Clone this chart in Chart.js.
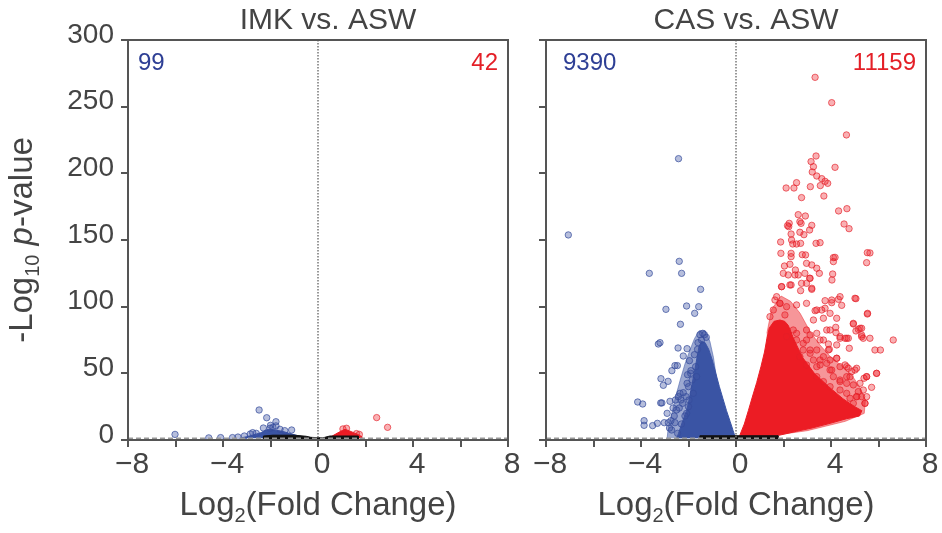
<!DOCTYPE html>
<html>
<head>
<meta charset="utf-8">
<script src="https://cdn.jsdelivr.net/npm/chart.js@4.4.1/dist/chart.umd.min.js"></script>
<style>
  body { margin: 0; background: #fff; }
  #wrap { position: relative; width: 942px; height: 533px; }
  canvas { position: absolute; top: 0; }
</style>
</head>
<body>
<div id="wrap">
  <canvas id="imk" width="520" height="533" style="left:0;width:520px;height:533px"></canvas>
  <canvas id="cas" width="422" height="533" style="left:520px;width:422px;height:533px"></canvas>
</div>
<script>
// axes
const xTickValues = [-8, -4, 0, 4, 8];
const xTickLabels = ['\u22128', '\u22124', '0', '4', '8'];
const yTickValues = [0, 50, 100, 150, 200, 250, 300];
const pThreshold = 1.3;

const panelTitles = ['IMK vs. ASW', 'CAS vs. ASW'];
const downCounts = [99, 9390];
const upCounts = [42, 11159];

// IMK vs ASW - single outlying genes
const imkBlueX = [-6.02, -4.6, -4.1, -3.6, -3.37, -2.85, -2.6, -2.48, -2.3, -2.16, -2.0, -2.02, -1.9, -1.77, -1.77, -1.6, -1.4, -1.11, -3.1, -2.75];
const imkBlueY = [4.2, 1.6, 1.8, 1.8, 2.2, 4.5, 5, 22.5, 9, 16.7, 11, 8.8, 9.5, 10.6, 13.7, 8, 7, 7.5, 3, 5.5];
const imkRedX = [1.05, 1.2, 1.62, 1.74, 2.47, 2.93];
const imkRedY = [8.3, 8.8, 4.8, 4.2, 16.8, 9.5];
// IMK vs ASW - outline of the dense clouds
const imkBlueShapeX = [-3.3, -3.0, -2.7, -2.4, -2.2, -2.0, -1.8, -1.5, -1.2, -0.9, -0.6, -0.3, -0.2];
const imkBlueShapeY = [1.3, 2.5, 4, 5.5, 7.5, 8, 7.5, 6.5, 5, 3.5, 2.2, 1.5, 1.3];
const imkRedShapeX = [0.43, 0.6, 0.8, 1.0, 1.14, 1.3, 1.5, 1.7, 1.84, 1.84];
const imkRedShapeY = [1.3, 3, 5, 7, 8, 7, 5.5, 4, 2.5, 1.3];
const imkGreyShapeX = [-2.3, -2.3, -1.9, -1.0, -0.5, -0.3, 0.2, 0.5, 1.7, 1.7];
const imkGreyShapeY = [0, 3, 3.6, 3.6, 2.8, 2, 1.6, 3, 3, 0];

// CAS vs ASW - single outlying genes
const casBlueX = [-7.06, -2.42, -2.39, -3.65, -2.29, -1.49, -2.95, -2.08, -1.57, -1.74, -2.34, -3.27, -3.2, -1.52, -1.33,
  -2.44, -2.06, -2.22, -1.96, -2.57, -2.47, -2.7, -2.04, -3.16, -2.86, -3.06, -2.06, -4.14, -3.93, -3.17, -3.12, -2.78,
  -3.87, -3.87, -3.51, -3.31, -3.02, -2.85, -2.74, -2.57, -2.71, -2.46, -2.36, -2.22, -2.1, -1.98, -2.32, -2.39,
  -1.91, -1.66, -2.0, -2.43, -2.25, -2.5, -2.08, -1.62, -1.45, -1.7, -1.85, -2.15, -2.6, -2.3, -2.0, -1.8,
  -1.4, -1.25, -1.6, -1.75, -1.9, -2.65, -2.55, -2.9, -2.8];
const casBlueY = [153.8, 211, 134, 125, 125, 113, 98, 100.5, 100, 95, 86.8, 72, 73, 79, 79,
  69, 68.5, 63, 59.5, 55.8, 55.8, 52, 49, 46, 44, 41, 42.5, 28.5, 27, 27.8, 27.8, 29,
  14.5, 11, 10.8, 12.5, 13, 13, 14.5, 13, 7.5, 5, 35, 35.5, 32.5, 30, 30, 24,
  50, 47.5, 40, 32.5, 27.5, 22.5, 20, 68, 75, 55, 45, 18, 18, 12, 25, 35,
  80, 77, 73, 64, 52, 24, 30, 20, 9];
const casRedX = [3.33, 4.03, 4.65, 3.37, 3.16, 3.26, 4.17, 3.21, 3.4, 3.61, 3.75, 3.86, 2.55, 2.11, 2.44, 3.13, 3.55,
  3.7, 2.76, 4.32, 4.67, 2.62, 2.92, 2.24, 2.22, 2.69, 2.74, 3.19, 4.55, 4.76, 2.17, 2.32, 2.69, 2.86, 3.1,
  1.88, 2.34, 2.39, 2.55, 2.72, 3.37, 3.54, 1.89, 2.32, 2.79, 2.93, 2.32, 5.64, 4.1,
  5.53, 5.5, 4.17, 4.1, 2.04, 2.27, 2.5, 2.97, 3.19, 3.4, 3.51, 2.62, 3.1, 2.97, 4.07, 4.04,
  1.92, 2.32, 2.72, 3.19, 5.05, 3.75, 4.03, 4.31, 4.45, 3.33, 3.61, 3.96, 4.24, 5.53, 3.68, 3.26, 3.12,
  4.94, 5.15, 5.29, 5.05, 3.82, 4.2, 4.21, 4.38, 4.59, 4.73, 5.29, 5.36, 5.64, 6.62, 6.08, 4.77, 4.24, 3.89, 3.93, 3.54,
  4.24, 3.96, 3.82, 3.54, 3.4, 4.59, 4.73, 5.08, 4.87, 5.92, 5.5, 5.71, 5.39, 4.1, 4.38, 4.66, 4.94, 5.15, 5.29, 5.43,
  2.97, 2.69, 3.12, 3.4, 3.68, 3.96, 4.38, 4.66, 4.8, 5.08, 3.96, 3.26, 2.83, 2.55, 2.97, 2.41, 2.13, 3.4, 3.68,
  4.38, 4.66, 5.22, 5.36, 5.5, 4.94, 1.57, 1.85, 1.71, 1.43, 2.06,
  1.99, 2.2, 2.48, 2.9, 3.12, 1.92, 2.27, 2.76, 3.19, 1.64, 1.85, 2.13, 2.55, 2.97, 3.4, 3.75, 4.03, 4.38, 5.01,
  5.54, 4.94, 5.22, 5.29, 5.85, 5.92, 5.5, 5.43, 5.08, 2.97, 3.4, 3.68, 3.96, 4.38, 4.66, 3.89, 4.24, 4.66, 5.01,
  4.8, 4.38, 4.03, 3.54, 3.12, 2.83, 2.55];
const casRedY = [272, 253, 228.8, 213, 208.8, 205, 204.5, 201, 198, 196, 194, 192.5, 193, 189, 189, 190, 190.8,
  183, 181.8, 171.8, 173.5, 169, 168, 162.5, 160, 163.8, 162.5, 161, 162, 158.5, 160.8, 154.5, 155.8, 154, 157.5,
  148.5, 150, 147, 147, 147.5, 147.5, 148, 140, 140, 139, 138.8, 137.5, 140.3, 136.8,
  140.5, 133, 137, 133.8, 130.5, 131.8, 127.5, 132.5, 131.3, 128.8, 125, 123.8, 121.3, 117.5, 124.5, 120,
  115, 116.3, 112, 113, 106, 104.5, 103, 105.5, 101, 97, 97.5, 95, 91.3, 94.5, 91.3, 90, 78.8,
  87, 83, 83.8, 81.8, 82.5, 84.5, 80.5, 76.3, 76.3, 76.3, 78.8, 76.3, 76.3, 75, 67.5, 68.8, 71.3, 72, 68, 75,
  61.3, 60, 57.5, 56.3, 55, 56.3, 53.8, 53.8, 51.3, 50, 47.5, 39.5, 46.3, 47.5, 43.8, 42.5, 41.3, 36.3, 32.5, 27.5,
  56.3, 62.5, 67.5, 47.5, 43.8, 40, 37.5, 35, 31.3, 32.5, 52.5, 60, 67.5, 75, 75, 82.5, 77.5, 67.5, 62.5,
  55, 47.5, 42.5, 37.5, 32.5, 27.5, 97.5, 102.5, 107.5, 92.5, 93.8,
  125, 123.8, 123.8, 125, 121.3, 115, 116.3, 117.5, 113.8, 105, 102.5, 100, 101.3, 102.5, 97.5, 98.8, 105, 107.5, 106.3,
  95, 87.5, 83.8, 77.5, 67.5, 50, 47.5, 27.5, 32.5, 82.5, 80, 75, 82.5, 77.5, 76.3, 67.5, 61.3, 55, 52.5,
  47.5, 45, 52.5, 60, 65, 72.5, 80];
// CAS vs ASW - outline of the dense clouds
const casBlueShapeX = [-2.5, -2.42, -2.25, -2.08, -1.95, -1.85, -1.72, -1.64, -1.56, -1.45, -1.3, -1.15, -1.0, -0.85, -0.7, -0.55, -0.4, -0.25, -0.12, -0.04, -0.04];
const casBlueShapeY = [1.3, 5, 14, 22, 32, 42, 54, 62, 70, 74, 73, 68, 60, 50, 40, 31, 22, 14, 7, 2.5, 1.3];
const casBlueHaloX = [-2.9, -2.85, -2.7, -2.55, -2.35, -2.15, -1.95, -1.75, -1.55, -1.3, -1.1, -0.95, -0.6, -0.3];
const casBlueHaloY = [1.3, 10, 20, 32, 45, 57, 67, 76, 82, 82, 74, 62, 20, 1.3];
const casRedShapeX = [0.12, 0.17, 0.35, 0.52, 0.7, 0.87, 1.05, 1.2, 1.3, 1.4, 1.6, 1.85, 2.05, 2.2, 2.45, 2.8, 3.3, 3.9, 4.5, 5.0, 5.3, 5.2, 4.66, 3.96, 3.2, 2.55, 1.8, 1.2, 0.5];
const casRedShapeY = [1.3, 4, 12, 22, 33, 43, 55, 66, 76, 84, 89, 90, 89, 86, 75, 62, 50, 40, 31, 25, 22, 18, 16, 12.5, 9, 6.5, 3.5, 2, 1.3];
const casRedHaloX = [1.3, 1.5, 1.9, 2.3, 2.7, 3.1, 3.5, 4.0, 4.5, 4.9, 5.2, 5.45, 5.4, 4.6, 3.0, 1.0];
const casRedHaloY = [80, 98, 108, 104, 95, 82, 72, 62, 55, 48, 40, 30, 20, 14, 7, 2];
const casGreyShapeX = [-1.52, -1.52, 1.77, 1.77];
const casGreyShapeY = [0, 3.2, 3.2, 0];

const blueSolid = '#3a54a4';
const redSolid = '#ec1c24';
const blueHalo = 'rgba(58,84,164,0.5)';
const redHalo = 'rgba(238,45,52,0.5)';
const blueDot = ['rgba(62,84,163,0.38)', 'rgba(52,75,155,0.7)'];
const redDot = ['rgba(237,28,36,0.35)', 'rgba(228,30,40,0.65)'];
const textGrey = '#444444';
const axisGrey = '#555555';
const font = '"Liberation Sans", Arial, sans-serif';

function pts(xs, ys) {
  return xs.map((x, i) => ({ x: x, y: ys[i] }));
}

function shape(xs, ys, color, order) {
  return {
    data: pts(xs, ys), showLine: true, fill: 'shape', pointRadius: 0,
    borderColor: color, backgroundColor: color, borderWidth: 1, order: order
  };
}

function dots(xs, ys, c) {
  return {
    data: pts(xs, ys), pointRadius: 3.2, pointBackgroundColor: c[0],
    pointBorderColor: c[1], pointBorderWidth: 1, order: 1
  };
}

function rich(ctx, parts, cx, base) {
  let total = 0;
  parts.forEach(p => { ctx.font = p.font; p.w = ctx.measureText(p.text).width; total += p.w; });
  let x = cx - total / 2;
  ctx.textAlign = 'left';
  ctx.textBaseline = 'alphabetic';
  parts.forEach(p => { ctx.font = p.font; ctx.fillText(p.text, x, base + (p.dy || 0)); x += p.w; });
}

function decor(idx, showYTitle, countPad) {
  return {
    id: 'decor' + idx,
    afterDatasetsDraw(chart) {
      const { ctx, chartArea: a, scales } = chart;
      ctx.save();
      ctx.lineWidth = 1.5;
      ctx.strokeStyle = '#999';
      ctx.setLineDash([5, 3]);
      const ty = scales.y.getPixelForValue(pThreshold);
      ctx.beginPath(); ctx.moveTo(a.left, ty); ctx.lineTo(a.right, ty); ctx.stroke();
      ctx.strokeStyle = '#777';
      ctx.setLineDash([1.5, 1.5]);
      const zx = scales.x.getPixelForValue(0);
      ctx.beginPath(); ctx.moveTo(zx, a.top); ctx.lineTo(zx, a.bottom); ctx.stroke();
      ctx.restore();
    },
    afterDraw(chart) {
      const { ctx, chartArea: a } = chart;
      ctx.save();
      ctx.strokeStyle = axisGrey;
      ctx.lineWidth = 2;
      ctx.strokeRect(a.left, a.top, a.right - a.left, a.bottom - a.top);
      const mid = (a.left + a.right) / 2;
      ctx.fillStyle = textGrey;
      ctx.font = '30px ' + font;
      ctx.textAlign = 'center';
      ctx.textBaseline = 'alphabetic';
      ctx.fillText(panelTitles[idx], mid + 10, 29);
      ctx.font = '24px ' + font;
      ctx.fillStyle = '#2e3f95';
      ctx.textAlign = 'left';
      ctx.fillText(String(downCounts[idx]), a.left + countPad, 70);
      ctx.fillStyle = '#e41f27';
      ctx.textAlign = 'right';
      ctx.fillText(String(upCounts[idx]), a.right - 10, 70);
      ctx.fillStyle = textGrey;
      rich(ctx, [
        { text: 'Log', font: '33px ' + font },
        { text: '2', font: '20px ' + font, dy: 7 },
        { text: '(Fold Change)', font: '33px ' + font }
      ], mid, 515);
      if (showYTitle) {
        ctx.translate(32, 240);
        ctx.rotate(-Math.PI / 2);
        rich(ctx, [
          { text: '-Log', font: '33px ' + font },
          { text: '10', font: '20px ' + font, dy: 7 },
          { text: ' ', font: '33px ' + font },
          { text: 'p', font: 'italic 33px ' + font },
          { text: '-value', font: '33px ' + font }
        ], 0, 0);
      }
      ctx.restore();
    }
  };
}

function makeChart(id, idx, datasets, yWidth, padRight, showYLabels, countPad) {
  return new Chart(document.getElementById(id), {
    type: 'scatter',
    data: { datasets: datasets },
    options: {
      responsive: false,
      devicePixelRatio: 1,
      animation: false,
      events: [],
      layout: { padding: { top: 40, right: padRight, bottom: 0, left: 0 } },
      plugins: { legend: { display: false }, tooltip: { enabled: false } },
      scales: {
        x: {
          type: 'linear', min: -8, max: 8,
          afterFit: s => { s.height = 93; },
          border: { display: false },
          grid: { drawOnChartArea: false, drawTicks: true, tickLength: 7, color: axisGrey, lineWidth: 2 },
          ticks: {
            stepSize: 2, autoSkip: false, maxRotation: 0, padding: 0, labelOffset: 4,
            color: textGrey, font: { family: font, size: 30 },
            callback: v => {
              const k = xTickValues.indexOf(v);
              return k >= 0 ? xTickLabels[k] : '';
            }
          }
        },
        y: {
          type: 'linear', min: 0, max: 300,
          afterFit: s => { s.width = yWidth; },
          border: { display: false },
          grid: { drawOnChartArea: false, drawTicks: true, tickLength: 7, color: axisGrey, lineWidth: 2 },
          ticks: {
            stepSize: 50, autoSkip: false, padding: 7, labelOffset: -5,
            color: textGrey, font: { family: font, size: 28 },
            callback: v => (showYLabels && yTickValues.includes(v)) ? String(v) : ''
          }
        }
      }
    },
    plugins: [decor(idx, showYLabels, countPad)]
  });
}

makeChart('imk', 0, [
  shape(imkGreyShapeX, imkGreyShapeY, '#111', 0),
  dots(imkBlueX, imkBlueY, blueDot),
  dots(imkRedX, imkRedY, redDot),
  shape(imkBlueShapeX, imkBlueShapeY, blueSolid, 2),
  shape(imkRedShapeX, imkRedShapeY, redSolid, 2)
], 128, 12, true, 10);

makeChart('cas', 1, [
  shape(casGreyShapeX, casGreyShapeY, '#111', 0),
  dots(casBlueX, casBlueY, blueDot),
  dots(casRedX, casRedY, redDot),
  shape(casBlueShapeX, casBlueShapeY, blueSolid, 2),
  shape(casRedShapeX, casRedShapeY, redSolid, 2),
  shape(casBlueHaloX, casBlueHaloY, blueHalo, 3),
  shape(casRedHaloX, casRedHaloY, redHalo, 3)
], 26, 16, false, 17);
</script>
</body>
</html>
